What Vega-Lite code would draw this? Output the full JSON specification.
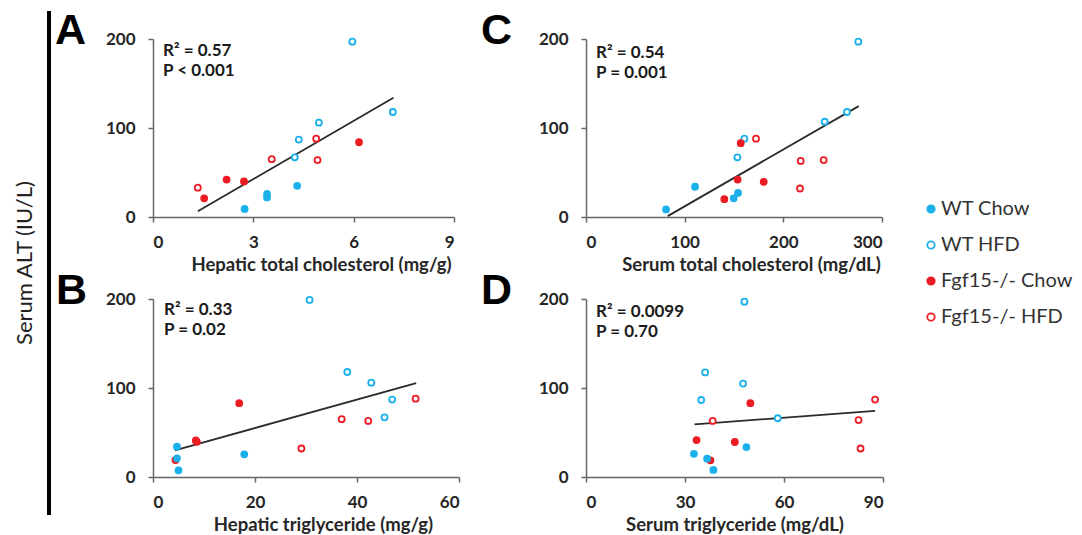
{
  "$schema": "https://vega.github.io/schema/vega-lite/v6.json",
  "background": "white",
  "padding": {"left": 42, "top": 10, "right": 5, "bottom": 5},
  "datasets": {
    "points": [
      {"panel": "A", "group": "WT HFD", "x": 5.96, "y": 197},
      {"panel": "A", "group": "WT HFD", "x": 7.17, "y": 118},
      {"panel": "A", "group": "WT HFD", "x": 4.96, "y": 106},
      {"panel": "A", "group": "WT HFD", "x": 4.36, "y": 87},
      {"panel": "A", "group": "WT HFD", "x": 4.24, "y": 67},
      {"panel": "A", "group": "Fgf15-/- HFD", "x": 1.34, "y": 33},
      {"panel": "A", "group": "Fgf15-/- HFD", "x": 3.55, "y": 65},
      {"panel": "A", "group": "Fgf15-/- HFD", "x": 4.88, "y": 88},
      {"panel": "A", "group": "Fgf15-/- HFD", "x": 4.92, "y": 64},
      {"panel": "A", "group": "Fgf15-/- Chow", "x": 1.53, "y": 21},
      {"panel": "A", "group": "Fgf15-/- Chow", "x": 2.2, "y": 42},
      {"panel": "A", "group": "Fgf15-/- Chow", "x": 2.72, "y": 40},
      {"panel": "A", "group": "Fgf15-/- Chow", "x": 6.16, "y": 84},
      {"panel": "A", "group": "WT Chow", "x": 2.74, "y": 9},
      {"panel": "A", "group": "WT Chow", "x": 3.41, "y": 26},
      {"panel": "A", "group": "WT Chow", "x": 3.41, "y": 22},
      {"panel": "A", "group": "WT Chow", "x": 4.31, "y": 35},

      {"panel": "B", "group": "WT HFD", "x": 30.7, "y": 199},
      {"panel": "B", "group": "WT HFD", "x": 38.1, "y": 118},
      {"panel": "B", "group": "WT HFD", "x": 42.8, "y": 106},
      {"panel": "B", "group": "WT HFD", "x": 46.9, "y": 87},
      {"panel": "B", "group": "WT HFD", "x": 45.4, "y": 67},
      {"panel": "B", "group": "Fgf15-/- HFD", "x": 51.5, "y": 88},
      {"panel": "B", "group": "Fgf15-/- HFD", "x": 37.0, "y": 65},
      {"panel": "B", "group": "Fgf15-/- HFD", "x": 42.2, "y": 63},
      {"panel": "B", "group": "Fgf15-/- HFD", "x": 29.1, "y": 32},
      {"panel": "B", "group": "Fgf15-/- Chow", "x": 16.9, "y": 83},
      {"panel": "B", "group": "Fgf15-/- Chow", "x": 8.6, "y": 39.5},
      {"panel": "B", "group": "Fgf15-/- Chow", "x": 8.4, "y": 41},
      {"panel": "B", "group": "Fgf15-/- Chow", "x": 4.4, "y": 19},
      {"panel": "B", "group": "WT Chow", "x": 4.7, "y": 34},
      {"panel": "B", "group": "WT Chow", "x": 4.7, "y": 21},
      {"panel": "B", "group": "WT Chow", "x": 5.0, "y": 7.5},
      {"panel": "B", "group": "WT Chow", "x": 17.9, "y": 25.5},

      {"panel": "C", "group": "WT HFD", "x": 276, "y": 197},
      {"panel": "C", "group": "WT HFD", "x": 264.5, "y": 118},
      {"panel": "C", "group": "WT HFD", "x": 241.9, "y": 107},
      {"panel": "C", "group": "WT HFD", "x": 160.5, "y": 88},
      {"panel": "C", "group": "WT HFD", "x": 153.4, "y": 67},
      {"panel": "C", "group": "Fgf15-/- HFD", "x": 172.3, "y": 88},
      {"panel": "C", "group": "Fgf15-/- HFD", "x": 217.6, "y": 63},
      {"panel": "C", "group": "Fgf15-/- HFD", "x": 240.9, "y": 64},
      {"panel": "C", "group": "Fgf15-/- HFD", "x": 216.9, "y": 32},
      {"panel": "C", "group": "Fgf15-/- Chow", "x": 156.8, "y": 83},
      {"panel": "C", "group": "Fgf15-/- Chow", "x": 153.7, "y": 42},
      {"panel": "C", "group": "Fgf15-/- Chow", "x": 180.1, "y": 39.5},
      {"panel": "C", "group": "Fgf15-/- Chow", "x": 140.2, "y": 20},
      {"panel": "C", "group": "WT Chow", "x": 81.1, "y": 8.5},
      {"panel": "C", "group": "WT Chow", "x": 110.5, "y": 34},
      {"panel": "C", "group": "WT Chow", "x": 149.7, "y": 21},
      {"panel": "C", "group": "WT Chow", "x": 154.1, "y": 27},

      {"panel": "D", "group": "WT HFD", "x": 48.0, "y": 197},
      {"panel": "D", "group": "WT HFD", "x": 36.1, "y": 117.5},
      {"panel": "D", "group": "WT HFD", "x": 47.6, "y": 105},
      {"panel": "D", "group": "WT HFD", "x": 34.9, "y": 86.5},
      {"panel": "D", "group": "WT HFD", "x": 58.1, "y": 66},
      {"panel": "D", "group": "Fgf15-/- HFD", "x": 87.6, "y": 87},
      {"panel": "D", "group": "Fgf15-/- HFD", "x": 38.4, "y": 63},
      {"panel": "D", "group": "Fgf15-/- HFD", "x": 82.6, "y": 64},
      {"panel": "D", "group": "Fgf15-/- HFD", "x": 83.2, "y": 32},
      {"panel": "D", "group": "Fgf15-/- Chow", "x": 49.8, "y": 83},
      {"panel": "D", "group": "Fgf15-/- Chow", "x": 33.5, "y": 41.5},
      {"panel": "D", "group": "Fgf15-/- Chow", "x": 45.1, "y": 39.3},
      {"panel": "D", "group": "Fgf15-/- Chow", "x": 37.7, "y": 18.7},
      {"panel": "D", "group": "WT Chow", "x": 32.7, "y": 26},
      {"panel": "D", "group": "WT Chow", "x": 36.7, "y": 20.6},
      {"panel": "D", "group": "WT Chow", "x": 38.6, "y": 8},
      {"panel": "D", "group": "WT Chow", "x": 48.6, "y": 33.6}
    ],
    "lines": [
      {"panel": "A", "x": 1.34, "y": 6.4},
      {"panel": "A", "x": 7.19, "y": 134},
      {"panel": "B", "x": 4.3, "y": 30},
      {"panel": "B", "x": 51.6, "y": 105.4},
      {"panel": "C", "x": 82.8, "y": 1},
      {"panel": "C", "x": 276.4, "y": 124.6},
      {"panel": "D", "x": 32.9, "y": 59.1},
      {"panel": "D", "x": 87.6, "y": 74.4}
    ],
    "notes": [
      {"panel": "A", "label": "R² = 0.57\nP < 0.001"},
      {"panel": "B", "label": "R² = 0.33\nP = 0.02"},
      {"panel": "C", "label": "R² = 0.54\nP = 0.001"},
      {"panel": "D", "label": "R² = 0.0099\nP = 0.70"}
    ]
  },
  "spacing": -26,
  "hconcat": [
    {
      "width": 1,
      "height": 504,
      "data": {"values": [{"v": 0}]},
      "mark": {"type": "point", "opacity": 0},
      "encoding": {
        "y": {
          "field": "v", "type": "quantitative", "scale": {"domain": [0, 1]},
          "axis": {"domain": true, "domainColor": "#000000", "domainWidth": 4, "ticks": false, "labels": false, "translate": -28,
                   "title": "Serum ALT (IU/L)", "titleFont": "Lato", "titleFontWeight": "normal", "titleFontSize": 22,
                   "titleColor": "#222222", "titlePadding": 12}
        }
      }
    },
    {
      "concat": [
        {
          "width": 301, "height": 178,
          "title": {"text": "A", "anchor": "start", "frame": "group", "orient": "top", "offset": 0, "dx": -98, "dy": 57, "baseline": "alphabetic", "font": "Liberation Sans", "fontSize": 43, "fontWeight": "bold", "color": "#000000"},
          "layer": [
            {"data": {"name": "lines"}, "transform": [{"filter": "datum.panel === 'A'"}], "mark": {"type": "line", "color": "#2b2b2b", "strokeWidth": 1.8},
             "encoding": {
               "x": {"field": "x", "type": "quantitative", "scale": {"domain": [0, 9]}, "axis": {"values": [0, 3, 6, 9], "title": "Hepatic total cholesterol (mg/g)"}},
               "y": {"field": "y", "type": "quantitative", "scale": {"domain": [0, 200]}, "axis": {"values": [0, 100, 200], "title": null}}
             }},
            {"data": {"name": "points"}, "transform": [{"filter": "datum.panel === 'A'"}], "mark": {"type": "point", "shape": "circle", "size": 36, "strokeWidth": 1.8, "opacity": 1},
             "encoding": {
               "x": {"field": "x", "type": "quantitative", "scale": {"domain": [0, 9]}, "axis": {"values": [0, 3, 6, 9], "title": "Hepatic total cholesterol (mg/g)", "titleX": 168}},
               "y": {"field": "y", "type": "quantitative", "scale": {"domain": [0, 200]}, "axis": {"values": [0, 100, 200], "title": null}},
               "stroke": {"field": "group", "type": "nominal", "scale": {"domain": ["WT Chow", "WT HFD", "Fgf15-/- Chow", "Fgf15-/- HFD"], "range": ["#1bb0ea", "#1bb0ea", "#ec1c24", "#ec1c24"]}, "legend": {"title": null}},
               "fill": {"field": "group", "type": "nominal", "scale": {"domain": ["WT Chow", "WT HFD", "Fgf15-/- Chow", "Fgf15-/- HFD"], "range": ["#1bb0ea", "#ffffff", "#ec1c24", "#ffffff"]}, "legend": {"title": null}}
             }},
            {"data": {"name": "notes"}, "transform": [{"filter": "datum.panel === 'A'"}], "mark": {"type": "text", "align": "left", "baseline": "top", "dx": 10, "dy": 4, "lineBreak": "\n", "lineHeight": 20, "font": "Lato", "fontWeight": "bold", "fontSize": 17, "color": "#1a1a1a"},
             "encoding": {"x": {"datum": 0, "type": "quantitative"}, "y": {"datum": 200, "type": "quantitative"}, "text": {"field": "label", "type": "nominal"}}}
          ]
        },
        {
          "width": 296, "height": 178,
          "title": {"text": "C", "anchor": "start", "frame": "group", "orient": "top", "offset": 0, "dx": -105, "dy": 57, "baseline": "alphabetic", "font": "Liberation Sans", "fontSize": 43, "fontWeight": "bold", "color": "#000000"},
          "layer": [
            {"data": {"name": "lines"}, "transform": [{"filter": "datum.panel === 'C'"}], "mark": {"type": "line", "color": "#2b2b2b", "strokeWidth": 1.8},
             "encoding": {
               "x": {"field": "x", "type": "quantitative", "scale": {"domain": [0, 300]}, "axis": {"values": [0, 100, 200, 300], "title": "Serum total cholesterol (mg/dL)"}},
               "y": {"field": "y", "type": "quantitative", "scale": {"domain": [0, 200]}, "axis": {"values": [0, 100, 200], "title": null}}
             }},
            {"data": {"name": "points"}, "transform": [{"filter": "datum.panel === 'C'"}], "mark": {"type": "point", "shape": "circle", "size": 36, "strokeWidth": 1.8, "opacity": 1},
             "encoding": {
               "x": {"field": "x", "type": "quantitative", "scale": {"domain": [0, 300]}, "axis": {"values": [0, 100, 200, 300], "title": "Serum total cholesterol (mg/dL)", "titleX": 165}},
               "y": {"field": "y", "type": "quantitative", "scale": {"domain": [0, 200]}, "axis": {"values": [0, 100, 200], "title": null}},
               "stroke": {"field": "group", "type": "nominal", "scale": {"domain": ["WT Chow", "WT HFD", "Fgf15-/- Chow", "Fgf15-/- HFD"], "range": ["#1bb0ea", "#1bb0ea", "#ec1c24", "#ec1c24"]}, "legend": {"title": null}},
               "fill": {"field": "group", "type": "nominal", "scale": {"domain": ["WT Chow", "WT HFD", "Fgf15-/- Chow", "Fgf15-/- HFD"], "range": ["#1bb0ea", "#ffffff", "#ec1c24", "#ffffff"]}, "legend": {"title": null}}
             }},
            {"data": {"name": "notes"}, "transform": [{"filter": "datum.panel === 'C'"}], "mark": {"type": "text", "align": "left", "baseline": "top", "dx": 10, "dy": 6, "lineBreak": "\n", "lineHeight": 20, "font": "Lato", "fontWeight": "bold", "fontSize": 17, "color": "#1a1a1a"},
             "encoding": {"x": {"datum": 0, "type": "quantitative"}, "y": {"datum": 200, "type": "quantitative"}, "text": {"field": "label", "type": "nominal"}}}
          ]
        },
        {
          "width": 306, "height": 178,
          "title": {"text": "B", "anchor": "start", "frame": "group", "orient": "top", "offset": 0, "dx": -97, "dy": 57, "baseline": "alphabetic", "font": "Liberation Sans", "fontSize": 43, "fontWeight": "bold", "color": "#000000"},
          "layer": [
            {"data": {"name": "lines"}, "transform": [{"filter": "datum.panel === 'B'"}], "mark": {"type": "line", "color": "#2b2b2b", "strokeWidth": 1.8},
             "encoding": {
               "x": {"field": "x", "type": "quantitative", "scale": {"domain": [0, 60]}, "axis": {"values": [0, 20, 40, 60], "title": "Hepatic triglyceride (mg/g)"}},
               "y": {"field": "y", "type": "quantitative", "scale": {"domain": [0, 200]}, "axis": {"values": [0, 100, 200], "title": null}}
             }},
            {"data": {"name": "points"}, "transform": [{"filter": "datum.panel === 'B'"}], "mark": {"type": "point", "shape": "circle", "size": 36, "strokeWidth": 1.8, "opacity": 1},
             "encoding": {
               "x": {"field": "x", "type": "quantitative", "scale": {"domain": [0, 60]}, "axis": {"values": [0, 20, 40, 60], "title": "Hepatic triglyceride (mg/g)", "titleX": 170}},
               "y": {"field": "y", "type": "quantitative", "scale": {"domain": [0, 200]}, "axis": {"values": [0, 100, 200], "title": null}},
               "stroke": {"field": "group", "type": "nominal", "scale": {"domain": ["WT Chow", "WT HFD", "Fgf15-/- Chow", "Fgf15-/- HFD"], "range": ["#1bb0ea", "#1bb0ea", "#ec1c24", "#ec1c24"]}, "legend": {"title": null}},
               "fill": {"field": "group", "type": "nominal", "scale": {"domain": ["WT Chow", "WT HFD", "Fgf15-/- Chow", "Fgf15-/- HFD"], "range": ["#1bb0ea", "#ffffff", "#ec1c24", "#ffffff"]}, "legend": {"title": null}}
             }},
            {"data": {"name": "notes"}, "transform": [{"filter": "datum.panel === 'B'"}], "mark": {"type": "text", "align": "left", "baseline": "top", "dx": 11, "dy": 3, "lineBreak": "\n", "lineHeight": 20, "font": "Lato", "fontWeight": "bold", "fontSize": 17, "color": "#1a1a1a"},
             "encoding": {"x": {"datum": 0, "type": "quantitative"}, "y": {"datum": 200, "type": "quantitative"}, "text": {"field": "label", "type": "nominal"}}}
          ]
        },
        {
          "width": 297, "height": 178,
          "title": {"text": "D", "anchor": "start", "frame": "group", "orient": "top", "offset": 0, "dx": -105, "dy": 57, "baseline": "alphabetic", "font": "Liberation Sans", "fontSize": 43, "fontWeight": "bold", "color": "#000000"},
          "layer": [
            {"data": {"name": "lines"}, "transform": [{"filter": "datum.panel === 'D'"}], "mark": {"type": "line", "color": "#2b2b2b", "strokeWidth": 1.8},
             "encoding": {
               "x": {"field": "x", "type": "quantitative", "scale": {"domain": [0, 90]}, "axis": {"values": [0, 30, 60, 90], "title": "Serum triglyceride (mg/dL)"}},
               "y": {"field": "y", "type": "quantitative", "scale": {"domain": [0, 200]}, "axis": {"values": [0, 100, 200], "title": null}}
             }},
            {"data": {"name": "points"}, "transform": [{"filter": "datum.panel === 'D'"}], "mark": {"type": "point", "shape": "circle", "size": 36, "strokeWidth": 1.8, "opacity": 1},
             "encoding": {
               "x": {"field": "x", "type": "quantitative", "scale": {"domain": [0, 90]}, "axis": {"values": [0, 30, 60, 90], "title": "Serum triglyceride (mg/dL)"}},
               "y": {"field": "y", "type": "quantitative", "scale": {"domain": [0, 200]}, "axis": {"values": [0, 100, 200], "title": null}},
               "stroke": {"field": "group", "type": "nominal", "scale": {"domain": ["WT Chow", "WT HFD", "Fgf15-/- Chow", "Fgf15-/- HFD"], "range": ["#1bb0ea", "#1bb0ea", "#ec1c24", "#ec1c24"]}, "legend": {"title": null}},
               "fill": {"field": "group", "type": "nominal", "scale": {"domain": ["WT Chow", "WT HFD", "Fgf15-/- Chow", "Fgf15-/- HFD"], "range": ["#1bb0ea", "#ffffff", "#ec1c24", "#ffffff"]}, "legend": {"title": null}}
             }},
            {"data": {"name": "notes"}, "transform": [{"filter": "datum.panel === 'D'"}], "mark": {"type": "text", "align": "left", "baseline": "top", "dx": 10, "dy": 5, "lineBreak": "\n", "lineHeight": 20, "font": "Lato", "fontWeight": "bold", "fontSize": 17, "color": "#1a1a1a"},
             "encoding": {"x": {"datum": 0, "type": "quantitative"}, "y": {"datum": 200, "type": "quantitative"}, "text": {"field": "label", "type": "nominal"}}}
          ]
        }
      ],
      "columns": 2,
      "bounds": "flush",
      "spacing": {"row": 82, "column": 127}
    }
  ],
  "config": {
    "view": {"stroke": null},
    "font": "Lato",
    "axis": {
      "grid": false,
      "domainColor": "#666666", "domainWidth": 1.5,
      "tickColor": "#666666", "tickWidth": 1.5, "tickSize": 5,
      "labelFont": "Lato", "labelFontWeight": "bold", "labelFontSize": 17, "labelColor": "#262626",
      "titleFont": "Lato", "titleFontWeight": "bold", "titleFontSize": 18.5, "titleColor": "#262626"
    },
    "axisX": {"labelPadding": 12, "titlePadding": 5},
    "axisY": {"labelPadding": 13},
    "legend": {
      "orient": "none", "legendX": 844, "legendY": 160,
      "labelFont": "Lato", "labelFontSize": 20, "labelColor": "#333333",
      "symbolSize": 55, "symbolStrokeWidth": 1.8, "rowPadding": 16, "labelOffset": 0
    }
  }
}
